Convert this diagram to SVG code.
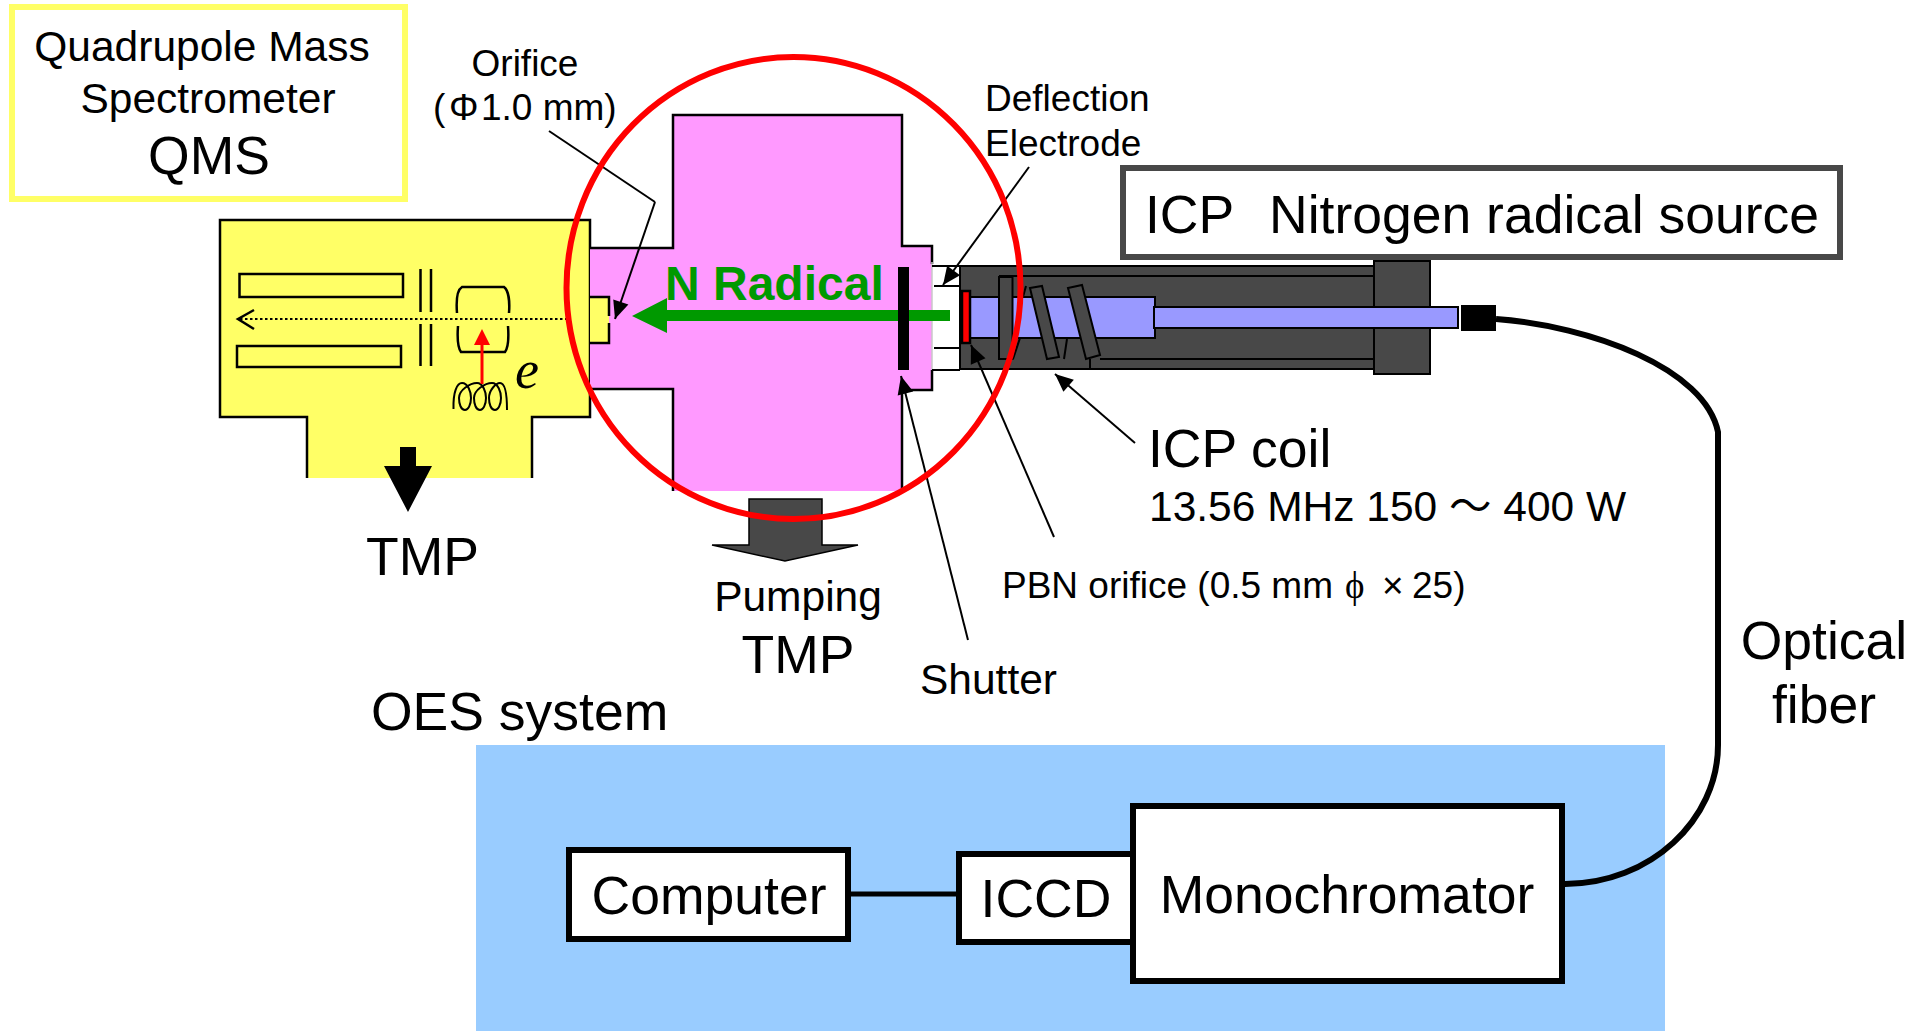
<svg xmlns="http://www.w3.org/2000/svg" width="1924" height="1031" viewBox="0 0 1924 1031">
<style>
text{font-family:"Liberation Sans",Arial,"Noto Sans CJK JP",sans-serif;fill:#000}
.s36{font-size:37px}.s41{font-size:42.5px}.s52{font-size:53.5px}
.m{text-anchor:middle}
.ln{fill:none;stroke:#000;stroke-width:2.5}
.thin{fill:none;stroke:#000;stroke-width:2}
.box{fill:#fff;stroke:#000;stroke-width:6}
.dk{fill:#484848;stroke:#000;stroke-width:2}
.tube{fill:#9999ff;stroke:#000;stroke-width:2}
.lead{fill:none;stroke:#000;stroke-width:2;marker-end:url(#head)}
.edge{fill:none;stroke:#000;stroke-width:2.5}
</style>
<defs>
<marker id="head" markerUnits="userSpaceOnUse" markerWidth="22" markerHeight="18" refX="20" refY="9" orient="auto"><path d="M2,1 L20,9 L2,17 Z" fill="#000"/></marker>
</defs>
<rect width="1924" height="1031" fill="#fff"/>

<g id="oes-panel"><rect x="476" y="745" width="1189" height="286" fill="#99ccff"/></g>

<g id="qms-chamber">
<path d="M220,220H590V417H532V478H307V417H220Z" fill="#ffff66"/>
<path class="edge" d="M307,478V417H220V220H590V417H532V478"/>
<rect class="ln" x="239.500" y="274" width="163.500" height="23"/>
<rect class="ln" x="237" y="346" width="164" height="21"/>
<path class="ln" d="M420.500,269V312M431,269V312M420.500,324V366M431,324V366"/>
<path class="ln" d="M457,313C456,300 457,290 462,287H504C508,290 510,300 509,313M458,326C457,340 458,348 461,352H505C508,348 509,340 508,326"/>
<path d="M240,319H570" fill="none" stroke="#000" stroke-width="2" stroke-dasharray="2.500 2.500"/>
<path class="ln" d="M254,310L238,319L254,329"/>
<path class="thin" d="M453.500,409C453,392 457,383 462,383C468,383 471,392 471,398C471,405 468,410 465,410C461,410 459,404 459,398C459,390 470,383 477,383C483,383 486,392 486,398C486,405 483,410 480,410C476,410 474,404 474,398C474,390 485,383 492,383C498,383 501,392 501,398C501,405 498,410 495,410C491,410 489,404 489,398C489,390 496,383 500,383C505,383 507,392 507,410"/>
<path d="M482,384V345" stroke="#ff0000" stroke-width="3" fill="none"/>
<path d="M482,329L474,345H490Z" fill="#ff0000"/>
<path d="M400,447H416V466H432L408,512L384,466H400Z" fill="#000"/>
<text x="515" y="388" style="font-family:'Liberation Serif',serif;font-style:italic;font-size:54px">e</text>
</g>

<g id="radical-chamber">
<path d="M590,248H673V115H902V246H932V390H902V491H673V389H590Z" fill="#ff99ff"/>
<path class="edge" d="M590,248H673V115H902V246H932V264M932,370V390H905M902,390V488M673,491V389H590"/>
<path d="M932,262V370" stroke="#c8c8c8" stroke-width="1.500"/>
<path d="M590,297H609V343H590Z" fill="#ffff66"/>
<path class="edge" d="M590,297H609V316M609,323V343H590"/>
<path d="M950,310H667V298L632,316L667,333V321H950Z" fill="#009900"/>
<rect x="898" y="267" width="11" height="103" fill="#000"/>
<text x="665" y="300" style="font-size:48px;font-weight:bold;fill:#009900">N Radical</text>
</g>

<g id="icp-source">
<path class="thin" d="M932,266H960M934,286H960M934,348H960M932,370H960"/>
<rect class="dk" x="960" y="266" width="415" height="103"/>
<rect class="dk" x="1374" y="261" width="56" height="113"/>
<path class="thin" d="M999,276H1374M1100,359H1374M1090,359V369"/>
<rect class="tube" x="970" y="297" width="185" height="41"/>
<rect class="tube" x="1154" y="307" width="304" height="21"/>
<rect class="dk" x="999" y="277" width="13.500" height="82"/>
<path class="thin" d="M1026,286L1023,297M1020,338L1013,359M1067,339L1064,359"/>
<path class="dk" d="M1030,288L1042,286L1059,357L1047,359Z"/>
<path class="dk" d="M1068,288L1082,285L1100,355L1086,359Z"/>
<rect x="962" y="291" width="8" height="52" fill="#ff0000" stroke="#000" stroke-width="2.500"/>
<rect x="1461" y="305" width="35" height="26" fill="#000"/>
</g>

<g id="pump-arrow">
<path d="M749,499H822V545H858L785,561L712,545H749Z" fill="#484848" stroke="#000" stroke-width="1.500"/>
</g>

<g id="connectors">
<path class="thin" d="M549,131L655,202"/>
<path class="lead" d="M655,202L615,319"/>
<path class="lead" d="M1029,167L943,285"/>
<path class="lead" d="M1135,443L1055,374"/>
<path class="lead" d="M1054,537L971,345"/>
<path class="lead" d="M968,640L901,376"/>
<path d="M849,894H957" fill="none" stroke="#000" stroke-width="5"/>
<path d="M1496,319C1590,326 1705,368 1718,432V745C1718,820 1650,884 1565,884" fill="none" stroke="#000" stroke-width="6"/>
</g>

<g id="highlight-ring"><ellipse cx="793.500" cy="288" rx="227" ry="231" fill="none" stroke="#ff0000" stroke-width="6"/></g>

<g id="qms-label">
<rect x="12" y="7" width="393" height="192" fill="none" stroke="#ffff66" stroke-width="6"/>
<text class="s41 m" x="202" y="61">Quadrupole Mass</text>
<text class="s41 m" x="208" y="113">Spectrometer</text>
<text class="s52 m" x="209" y="174">QMS</text>
</g>
<g id="orifice-label">
<text class="s36 m" x="525" y="76">Orifice</text>
<text class="s36" y="120"><tspan x="433">(</tspan><tspan x="449">Φ</tspan><tspan x="481">1.0 mm)</tspan></text>
</g>
<g id="deflection-label">
<text class="s36" x="985" y="111">Deflection</text>
<text class="s36" x="985" y="156">Electrode</text>
</g>
<g id="icp-label">
<rect x="1123" y="168" width="717" height="89" fill="#fff" stroke="#484848" stroke-width="6"/>
<text class="s52" x="1145" y="233">ICP</text>
<text class="s52" x="1269" y="233">Nitrogen radical source</text>
</g>
<g id="coil-label">
<text class="s52" x="1148" y="467">ICP coil</text>
<text class="s41" x="1149" y="521">13.56 MHz 150 ～ 400 W</text>
</g>
<g id="pbn-label"><text class="s36" y="598"><tspan x="1002">PBN orifice (0.5 mm</tspan><tspan x="1345" style="font-family:'Liberation Serif','DejaVu Serif',serif">ϕ</tspan><tspan x="1382">×</tspan><tspan x="1412">25)</tspan></text></g>
<g id="shutter-label"><text class="s41" x="920" y="694">Shutter</text></g>
<g id="tmp-left"><text class="s52" x="366" y="575">TMP</text></g>
<g id="tmp-pumping">
<text class="s41 m" x="798" y="611">Pumping</text>
<text class="s52 m" x="798" y="673">TMP</text>
</g>
<g id="fiber-label">
<text class="s52 m" x="1824" y="659">Optical</text>
<text class="s52 m" x="1824" y="723">fiber</text>
</g>
<g id="oes-label"><text class="s52" x="371" y="730">OES system</text></g>
<g id="computer"><rect class="box" x="569" y="850" width="279" height="89"/><text class="s52 m" x="709" y="914">Computer</text></g>
<g id="iccd"><rect class="box" x="959" y="854" width="176" height="88"/><text class="s52 m" x="1046" y="917">ICCD</text></g>
<g id="monochromator"><rect class="box" x="1133" y="806" width="429" height="175"/><text class="s52 m" x="1347" y="913">Monochromator</text></g>
</svg>
